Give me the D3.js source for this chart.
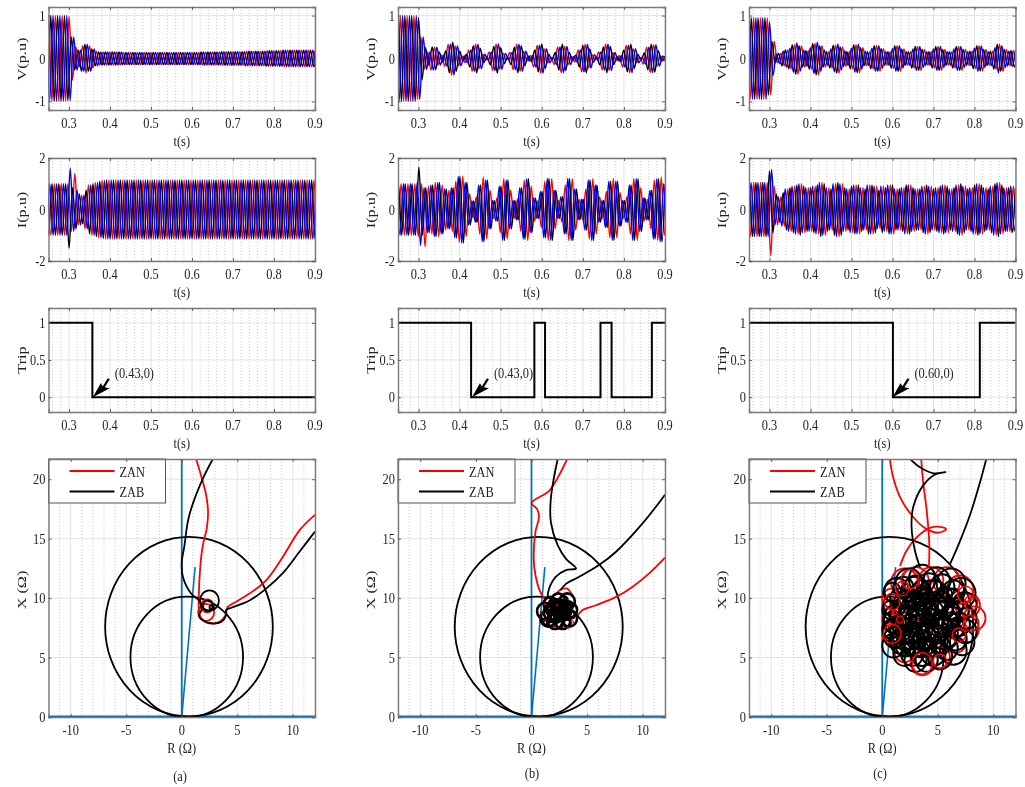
<!DOCTYPE html>
<html>
<head>
<meta charset="utf-8">
<script src="https://cdn.jsdelivr.net/npm/d3@7"></script>
<style>
body { margin: 0; background: #fff; }
svg { filter: blur(0.45px); }
text { font-family: "Liberation Serif", serif; fill: #222; }
</style>
</head>
<body>
<div id="chart"></div>
<script>
// tick labels
const timeTicks = [0.3, 0.4, 0.5, 0.6, 0.7, 0.8, 0.9]
const timeMinor = [0.26, 0.28, 0.32, 0.34, 0.36, 0.38, 0.42, 0.44, 0.46, 0.48, 0.52, 0.54, 0.56, 0.58, 0.62, 0.64, 0.66, 0.68, 0.72, 0.74, 0.76, 0.78, 0.82, 0.84, 0.86, 0.88]
const vTicks = [-1, 0, 1]
const iTicks = [-2, 0, 2]
const tripTicks = [0, 0.5, 1]
const rTicks = [-10, -5, 0, 5, 10]
const rMinor = [-12, -11, -9, -8, -7, -6, -4, -3, -2, -1, 1, 2, 3, 4, 6, 7, 8, 9, 11, 12]
const xTicks = [0, 5, 10, 15, 20]
const caseNames = ["(a)", "(b)", "(c)"]
const seriesColors = ["#ff0000", "#000000", "#0000ff"]

const vPeaksA = [1, 1, 1, 1, 1, 1, .98, .5, .27, .2, .3, .33, .3, .22, .17, .15, .15, .15, .15, .15,
    .15, .15, .14, .14, .14, .14, .14, .14, .14, .14, .14, .14, .14, .14, .14, .14, .14, .14, .14, .14,
    .14, .14, .14, .14, .14, .15, .15, .15, .15, .15, .15, .16, .16, .16, .16, .16, .16, .16, .17, .17,
    .17, .17, .17, .17, .18, .18, .18, .18, .18, .19, .19, .19, .19, .19, .19, .19, .19, .19, .19]
const vPeaksB = [1, 1, 1, 1, 1, 1, .95, .5, .25, .15, .27, .26, .15, .08, .18, .33, .38, .3, .17, .06,
    .1, .2, .3, .33, .24, .1, .04, .15, .28, .34, .25, .12, .03, .14, .26, .33, .3, .17, .06, .07,
    .2, .31, .34, .23, .1, .03, .14, .27, .33, .28, .14, .05, .08, .2, .31, .33, .22, .09, .03, .15,
    .27, .33, .28, .14, .05, .07, .2, .31, .33, .23, .1, .03, .13, .26, .33, .32, .18, .06, .05]
const vPeaksC = [.95, .95, .95, .95, .95, .95, .85, .4, .1, .12, .17, .2, .24, .32, .37, .3, .2, .18, .25, .35,
    .38, .3, .2, .16, .22, .31, .34, .27, .18, .16, .24, .32, .33, .25, .17, .16, .24, .3, .3, .23,
    .16, .16, .23, .3, .3, .22, .16, .16, .22, .28, .28, .21, .16, .16, .22, .28, .28, .21, .16, .16,
    .22, .28, .28, .21, .16, .17, .24, .3, .29, .21, .16, .17, .25, .33, .3, .21, .17, .18, .2]

// same thing for the I(p.u) panels
const iPeaksA = [1, 1, 1, 1, 1, 1, 1, .85, .75, .6, .55, .75, .95, 1, 1.05, 1.1, 1.13, 1.15, 1.15, 1.15,
    1.15, 1.15, 1.15, 1.15, 1.15, 1.15, 1.15, 1.15, 1.15, 1.15, 1.15, 1.15, 1.15, 1.15, 1.15, 1.15, 1.15, 1.15, 1.15, 1.15,
    1.15, 1.15, 1.15, 1.15, 1.15, 1.15, 1.15, 1.15, 1.15, 1.15, 1.15, 1.15, 1.15, 1.15, 1.15, 1.15, 1.15, 1.15, 1.15, 1.15,
    1.15, 1.15, 1.15, 1.15, 1.15, 1.15, 1.15, 1.15, 1.15, 1.15, 1.15, 1.15, 1.15, 1.15, 1.15, 1.15, 1.15, 1.15, 1.15]
const iPeaksB = [1, 1, 1, 1, 1, 1, 1.05, 1, .85, .9, .95, 1.05, 1.05, .95, .8, .75, .85, 1.1, 1.28, 1.3,
    1.05, .6, .33, .5, .95, 1.25, 1.15, .75, .35, .45, .9, 1.2, 1.15, .75, .35, .4, .85, 1.15, 1.2, .9,
    .45, .35, .7, 1.1, 1.2, 1.2, .75, .35, .5, .95, 1.2, 1.2, .8, .4, .4, .8, 1.15, 1.2, .95, .5,
    .35, .7, 1.1, 1.2, 1.1, .65, .35, .5, .95, 1.2, 1.2, .85, .45, .4, .75, 1.15, 1.2, 1.25, 1]
const iPeaksC = [1.05, 1.05, 1.05, 1.05, 1.05, 1.05, 1.05, .9, .6, .5, .65, .8, .85, .9, .95, 1, .9, .85, .85, .9,
    .95, 1.05, 1, .85, .8, 1, 1.05, 1, .85, .8, .9, .95, .95, .85, .8, .95, .95, .9, .75, .9,
    .85, .95, .95, .8, .8, .85, .95, .95, .85, .8, .8, .9, .95, .9, .8, .85, .9, .95, .9, .8,
    .85, .95, 1, .9, .8, .85, .95, 1, .95, .85, .8, .9, 1, 1.05, .95, .85, .85, .9, .85]

// phase of red, black, blue in cycles
const vPhases = [[0, .33, .67], [.33, 0, .67], [.67, .33, 0]]
const iPhases = [[.85, .51, .18], [.45, .05, .8], [.68, 0, .3]]

// fault spikes: [series, half cycle index, peak]
const iSpikesA = [[2, 6, 1.6], [1, 5, 1.5], [0, 6, 1.4]]
const iSpikesB = [[1, 6, 1.65], [2, 5, 1.4], [0, 7, 1.45]]
const iSpikesC = [[2, 6, 1.55], [1, 6, 1.5], [0, 5, 1.8]]

// trip signal, step corners
const tripTimeA = [.25, .357, .357, .9]
const tripValueA = [1, 1, 0, 0]
const tripTimeB = [.25, .428, .428, .582, .582, .608, .608, .743, .743, .77, .77, .868, .868, .9]
const tripValueB = [1, 1, 0, 0, 1, 1, 0, 0, 1, 1, 0, 0, 1, 1]
const tripTimeC = [.25, .601, .601, .813, .813, .9]
const tripValueC = [1, 1, 0, 0, 1, 1]
const tripTips = [0.358, 0.43, 0.60]
const tripLabels = ["(0.43,0)", "(0.43,0)", "(0.60,0)"]

// zones in the R-X plane: [R centre, X centre, radius]
const zones = [[0.65, 7.6, 7.55], [0.45, 5.05, 5.07]]
const reachLine = [[0, 0], [1.2, 12.6]]

// impedance tracks (a)
const redA = [[1.3, 21.7], [1.74, 20.3], [2.2, 18.65], [2.37, 17.25], [2.25, 15.85], [1.9, 14.45], [1.68, 12.76], [1.53, 9.96], [1.55, 9], [1.75, 8.3], [2.64, 7.85], [3.4, 8], [3.93, 8.55], [4.14, 9.26], [4.6, 9.54], [6.1, 10.38], [7.6, 11.5], [9.1, 13.46], [10.6, 15.7], [12, 17]]
const blackA = [[2.8, 21.7], [1.9, 20.05], [.84, 17.5], [.54, 16.4], [.24, 14.4], [0, 13], [.1, 11.8], [.84, 10.39], [1.6, 9.75], [1.75, 8.93], [1.54, 8.57], [1.96, 8.09], [2.8, 7.87], [3.55, 8], [4, 8.57], [4, 9], [4.3, 9.13], [6.1, 9.8], [7.6, 10.8], [9.1, 12.1], [10.6, 13.9], [12, 15.6]]
const loopsRedA = [[2.3, 9.35, .55], [2.2, 8.8, .72]]
const loopsBlackA = [[2.5, 9.8, .85], [2.35, 9.35, .45], [2.7, 9.2, .2]]

// impedance tracks (b)
const redB1 = [[3.2, 21.7], [2.46, 20.3], [1.56, 19], [0, 18], [.5, 17.5], [.67, 16.8], [.36, 15.6], [.2, 13.3], [.36, 11.9], [.8, 10.5], [1.27, 9.8]]
const redB2 = [[12, 13.4], [10.6, 12.1], [9.1, 10.96], [7.6, 10.1], [5.8, 9.4], [4.6, 9], [4.15, 8.55]]
const redB3 = [[2.1, 10.2], [2.6, 10.7], [3.2, 10.8], [3.7, 10.2]]
const blackB1 = [[2.35, 21.7], [1.74, 18.4], [1.74, 16.4], [2.35, 14.45], [3.1, 13.3], [4, 12.5], [3.1, 12.35], [2.2, 11.8], [1.58, 10.8], [1.43, 10]]
const blackB2 = [[12, 18.7], [10, 16.3], [7.6, 13.9], [6.1, 12.8], [4.3, 11.8], [3.1, 11.2], [2.6, 10.66]]
const loopsBlackB = [[1.2, 8.9, .7], [1.7, 9.5, .6], [2.4, 9.8, .6], [3.2, 9.7, .7], [3.5, 9, .6], [3.4, 8.3, .7], [2.8, 8.1, .7], [2.1, 8.1, .7], [1.5, 8.3, .7], [2.3, 9, .9], [2.8, 9, .8], [1.9, 8.8, .8], [2.5, 8.6, .5], [2.5, 9.4, .5], [3, 9.3, .3], [2, 9.2, .3], [3, 8.6, .3], [2.4, 9, .25],
    [1.2, 8.5, .35], [1.6, 9.1, .3], [1.9, 9.6, .3], [2.9, 9.8, .35], [3.4, 9.4, .3], [3.6, 8.6, .3], [3.2, 7.9, .3], [2.5, 7.8, .3], [1.8, 7.9, .3], [1.3, 8, .25], [1.8, 8.4, .3], [2.3, 8.2, .25], [2.9, 8.4, .25], [3.3, 8.9, .2], [2.7, 9.5, .2], [2.1, 9.5, .2], [1.6, 8.8, .15], [2.2, 8.7, .2], [2.7, 8.9, .15]]
const loopsRedB = [[.9, 8.8, .12], [1.2, 9.5, .08], [3.7, 8, .1], [2, 7.6, .08], [3.3, 7.5, .08], [2.3, 9.4, .06], [1.2, 8.1, .08]]

// impedance tracks (c)
const redC1 = [[3.5, 21.8], [3.7, 19.6], [4, 17.4], [4.24, 14.5], [4.2, 12.6]]
const redC2 = [[.67, 21.8], [.97, 20.2], [1.6, 18.5], [2.8, 16.8], [4, 15.8], [5.06, 15.5], [5.76, 15.8], [5.2, 16], [4.3, 15.9], [3.1, 15.1], [2.2, 14], [1.6, 12.7]]
const blackC1 = [[2.4, 21.8], [3.4, 21], [4.6, 20.5], [5.7, 20.6], [4.76, 20.4], [3.7, 19.5], [2.8, 17.7], [2.64, 16], [2.94, 14], [3.4, 12.6]]
const blackC2 = [[9.4, 21.8], [8.85, 19.9], [7.94, 17.1], [7, 14.8], [6.1, 12.85]]
const loopsRedC = [[2, 11.3, 1.2], [3, 11.4, 1.2], [4.4, 11.5, 1.1], [5.8, 11.4, 1.2], [7, 10.7, 1.2], [7.8, 9.4, 1], [8.3, 8.3, 1], [7.6, 7.4, 1.1], [6.6, 6.4, 1], [5.2, 5, .9], [3.6, 4.5, 1], [2, 5.5, .9], [1, 7, 1], [.8, 10, .8], [.9, 8.4, .9], [2.6, 7.5, 1.4], [3.4, 9.6, 1.5], [5.4, 8.2, 1.5], [1.8, 9.3, 1.1], [6.7, 8.7, 1.1]]
const loopsBlackC = [[1.3, 10.6, 1.1], [2.4, 11.3, 1.2], [3.6, 11.6, 1.2], [4.9, 11.4, 1.2], [6.2, 11.2, 1.3], [7.1, 10.4, 1.3], [7.4, 9.4, 1.1], [7.6, 8.3, .9], [7.5, 7.2, 1], [7.2, 6.3, 1.1], [6.4, 5.6, 1.2], [5.2, 5.1, 1.1], [4, 4.8, 1], [3, 4.8, 1], [2, 5.3, 1], [1, 6, 1], [.8, 7.4, .8], [.8, 9, .8],
    [2, 7, 1.3], [2.5, 9, 1.4], [3, 10.5, 1.3], [3, 6.5, 1.4], [4, 8, 1.5], [4.5, 10, 1.5], [4.5, 6.5, 1.4], [5.5, 8.5, 1.5], [5.5, 7, 1.3], [6, 9.5, 1.3], [3.3, 8.2, 1.2], [1.6, 8.5, .9], [2.4, 7.9, .7], [3.1, 9.3, .8], [3.8, 9.2, .7], [4.6, 8.9, .9], [4.3, 7.4, .8], [5, 9.6, .7], [3.6, 7.2, .6], [5, 8, .6], [4, 10.2, .6], [2.2, 10, .7], [6.2, 8, .8], [1.5, 6.8, .6], [3.5, 5.7, .7], [5.4, 6, .7], [4, 5.9, .7], [3.3, 6.8, .5], [4, 6.8, .4], [5, 7.2, .5], [5.8, 7.8, .4], [5.5, 9.3, .5], [4.5, 9.9, .4], [3.4, 10, .4], [2.6, 9.4, .4], [1.9, 8.9, .4], [2.9, 7.4, .5],
    [.9, 10.5, .8], [1, 8, .9], [1.1, 6.7, .9], [1.7, 7.7, .8], [1.5, 10, .8], [2.1, 6, .9], [2.8, 6, .8], [2.3, 8.5, .8], [2.9, 9.9, .8], [3.5, 10.8, .7], [4.8, 10.7, .8], [5.6, 10.3, .7], [6.4, 10.2, .6], [6.3, 8.9, .7], [6.6, 7.5, .8], [6, 6.5, .7], [5, 5.9, .6],
    [3.7, 8.1, .3], [4.4, 8.2, .3], [5, 8.6, .3], [3.9, 9, .25], [3.3, 8, .3], [2.3, 7.2, .3], [1.4, 9, .3], [1.5, 6.2, .3], [6.2, 9.6, .35], [6.6, 8, .3], [4.6, 6.1, .3], [3.6, 6.1, .3],
    [1.1, 9.4, 1], [1, 7.2, .95], [1.4, 8.2, 1.3], [1.7, 6.3, 1], [2.7, 5.3, 1], [3.6, 5.4, 1.1], [4.6, 5.4, 1.1], [5.8, 5.8, 1], [6.6, 6.6, 1], [6.9, 7.8, 1], [6.8, 9, 1], [6.4, 10.5, 1], [5.4, 10.9, 1.1], [4.2, 11, 1.1], [3, 10.9, 1], [1.9, 10.9, .9], [2.2, 9.4, 1.2], [3.6, 9, 1.3], [5.2, 9.4, 1.2], [5.1, 7.6, 1.2], [3.6, 6.8, 1.2], [2.6, 6.6, .9], [4.4, 8.4, .7], [3, 8, .6], [6, 7.2, .5], [4.2, 6.2, .5], [5.9, 8.9, .5], [3.6, 10.4, .5], [1.8, 9.6, .5], [1.4, 7.4, .4], [2.2, 8, .35], [3, 9.2, .3], [4.1, 9.5, .3], [4.8, 7.9, .3], [3.8, 7.6, .3], [5.6, 7.6, .25], [2.6, 6.2, .3], [5.4, 6.5, .3], [4.9, 10.2, .3], [6.4, 8.4, .3], [1, 8.6, .4], [1, 6.4, .4]]
const loopsRedCTop = [[.9, 9.7, .7], [.9, 7, .8], [1.8, 10.8, .6], [2.5, 11.6, .8], [6.9, 6.9, .6], [8, 7.9, .7], [8, 9.6, .6], [5.2, 4.7, .6], [3.6, 4.5, .9], [7.5, 10.3, .7], [1.6, 8.2, .3], [1.1, 8.8, .2]]

// the layout comes from the reference picture
const width = 1025
const height = 787
const columns = [[48.5, 315], [398, 665], [749, 1015.5]]
const vRow = [7, 110]
const iRow = [158, 261]
const tripRow = [308, 412]
const zRow = [459, 717]
const captionX = [180, 532, 880]
const captionY = [776, 773, 773]
const halfCycle = 1 / 120

const svg = d3.select("#chart").append("svg").attr("width", width).attr("height", height)
svg.append("rect").attr("width", width).attr("height", height).attr("fill", "#fff")

let clipCount = 0

function label(g, x, y, str, anchor, rotate) {
    // the reference is stretched vertically, so its letters are tall and narrow
    let sx = rotate ? 1.05 : 0.8
    let sy = rotate ? 0.86 : 1
    g.append("text")
        .attr("transform", "translate(" + x + "," + y + ")" + (rotate ? " rotate(-90)" : "") + " scale(" + sx + "," + sy + ")")
        .attr("text-anchor", anchor)
        .style("font-size", "15.5px")
        .text(str)
}

function makePanel(col, row, xDomain, yDomain, xMajor, xMinor, yMajor) {
    var x = d3.scaleLinear().domain(xDomain).range(columns[col])
    var y = d3.scaleLinear().domain(yDomain).range([row[1], row[0]])
    var g = svg.append("g")

    xMinor.forEach(function (v) {
        g.append("line").attr("x1", x(v)).attr("x2", x(v)).attr("y1", row[0]).attr("y2", row[1])
            .attr("stroke", "#bdbdbd").attr("stroke-width", 0.8).attr("stroke-dasharray", "1,2")
    })
    xMajor.forEach(function (v) {
        g.append("line").attr("x1", x(v)).attr("x2", x(v)).attr("y1", row[0]).attr("y2", row[1])
            .attr("stroke", "#e2e2e2").attr("stroke-width", 1)
    })
    yMajor.forEach(function (v) {
        g.append("line").attr("x1", columns[col][0]).attr("x2", columns[col][1]).attr("y1", y(v)).attr("y2", y(v))
            .attr("stroke", "#e2e2e2").attr("stroke-width", 1)
    })

    clipCount++
    var clipId = "clip" + clipCount
    svg.append("clipPath").attr("id", clipId).append("rect")
        .attr("x", columns[col][0]).attr("y", row[0])
        .attr("width", columns[col][1] - columns[col][0]).attr("height", row[1] - row[0] + 1)
    var plot = svg.append("g").attr("clip-path", "url(#" + clipId + ")")

    return {x: x, y: y, plot: plot, row: row, col: col, xMajor: xMajor, yMajor: yMajor}
}

function finishPanel(p) {
    var g = svg.append("g")
    var left = columns[p.col][0]
    var right = columns[p.col][1]
    var top = p.row[0]
    var bottom = p.row[1]

    var axes = [
        g.append("g").attr("transform", "translate(0," + bottom + ")").call(d3.axisBottom(p.x).tickValues(p.xMajor).tickSize(-3).tickFormat("")),
        g.append("g").attr("transform", "translate(0," + top + ")").call(d3.axisTop(p.x).tickValues(p.xMajor).tickSize(-3).tickFormat("")),
        g.append("g").attr("transform", "translate(" + left + ",0)").call(d3.axisLeft(p.y).tickValues(p.yMajor).tickSize(-3).tickFormat("")),
        g.append("g").attr("transform", "translate(" + right + ",0)").call(d3.axisRight(p.y).tickValues(p.yMajor).tickSize(-3).tickFormat(""))
    ]
    axes.forEach(function (a) {
        a.selectAll("path").attr("stroke", "#7a7a7a").attr("stroke-width", 1.4)
        a.selectAll("line").attr("stroke", "#555").attr("stroke-width", 0.9)
    })

    p.xMajor.forEach(function (v) {
        label(g, p.x(v), bottom + 18, String(v), "middle")
    })
    p.yMajor.forEach(function (v) {
        label(g, left - 3, p.y(v) + 5, String(v), "end")
    })
}

function drawWave(p, peaks, phases, spikes) {
    var line = d3.line().x(d => p.x(d[0])).y(d => p.y(d[1])).curve(d3.curveMonotoneX)
    seriesColors.forEach(function (color, s) {
        var pts = []
        var shift = Math.round(phases[s] * 2)
        // starts two half cycles early so the trace runs in from left of the frame
        for (let k = -2; k < peaks.length; k++) {
            let val = peaks[Math.min(peaks.length - 1, Math.max(0, k + shift))]
            spikes.forEach(function (sp) {
                if (sp[0] == s && sp[1] == k) val = sp[2]
            })
            let t = 0.25 + phases[s] * 2 * halfCycle + k * halfCycle
            pts.push([t, (k + 2) % 2 == 0 ? val : -val])
        }
        p.plot.append("path").attr("d", line(pts)).attr("fill", "none")
            .attr("stroke", color).attr("stroke-width", 1.45)
    })
}

function drawTrack(p, pts, color) {
    var line = d3.line().x(d => p.x(d[0])).y(d => p.y(d[1])).curve(d3.curveCatmullRom.alpha(0.5))
    p.plot.append("path").attr("d", line(pts)).attr("fill", "none")
        .attr("stroke", color).attr("stroke-width", 1.8)
}

function drawLoops(p, loops, color, strokeWidth) {
    loops.forEach(function (d) {
        p.plot.append("ellipse")
            .attr("cx", p.x(d[0])).attr("cy", p.y(d[1]))
            .attr("rx", p.x(d[0] + d[2]) - p.x(d[0]))
            .attr("ry", p.y(d[1]) - p.y(d[1] + d[2]))
            .attr("fill", "none").attr("stroke", color).attr("stroke-width", strokeWidth)
    })
}

const tDomain = [0.25, 0.9]
const cases = [[vPeaksA, iPeaksA, iSpikesA, tripTimeA, tripValueA], [vPeaksB, iPeaksB, iSpikesB, tripTimeB, tripValueB], [vPeaksC, iPeaksC, iSpikesC, tripTimeC, tripValueC]]

cases.forEach(function (c, col) {
    var cx = (columns[col][0] + columns[col][1]) / 2
    var left = columns[col][0]

    // voltage
    var pv = makePanel(col, vRow, tDomain, [-1.2, 1.2], timeTicks, timeMinor, vTicks)
    drawWave(pv, c[0], vPhases[col], [])
    finishPanel(pv)
    label(svg, cx, 146, "t(s)", "middle")
    label(svg, left - 23, 59, "V(p.u)", "middle", true)

    // current
    var pi = makePanel(col, iRow, tDomain, [-2, 2], timeTicks, timeMinor, iTicks)
    drawWave(pi, c[1], iPhases[col], c[2])
    finishPanel(pi)
    label(svg, cx, 297, "t(s)", "middle")
    label(svg, left - 23, 210, "I(p.u)", "middle", true)

    // trip signal
    var pt = makePanel(col, tripRow, tDomain, [-0.2, 1.2], timeTicks, timeMinor, tripTicks)
    var tripLine = d3.line().x((d, i) => pt.x(c[3][i])).y(d => pt.y(d))
    pt.plot.append("path").attr("d", tripLine(c[4])).attr("fill", "none")
        .attr("stroke", "#000").attr("stroke-width", 2)
    finishPanel(pt)
    label(svg, cx, 448, "t(s)", "middle")
    label(svg, left - 23, 360, "Trip", "middle", true)

    // arrow head and text of the trip point
    var tipX = pt.x(tripTips[col])
    var tipY = pt.y(0)
    svg.append("path")
        .attr("transform", "translate(" + tipX + "," + tipY + ")")
        .attr("d", "M0,0 L8,-14 L10,-11 L15,-19 L17,-18 L12,-10 L17,-9 Z")
        .attr("fill", "#000")
    label(svg, tipX + 22, tipY - 19, tripLabels[col], "start")

    // R-X plane
    var pz = makePanel(col, zRow, [-12, 12], [0, 21.7], rTicks, rMinor, xTicks)
    var blue = "#0072bd"
    var reach = d3.line().x(d => pz.x(d[0])).y(d => pz.y(d[1]))
    pz.plot.append("path").attr("d", reach([[-12, 0], [12, 0]])).attr("stroke", blue).attr("stroke-width", 3).attr("fill", "none")
    pz.plot.append("path").attr("d", reach([[0, 0], [0, 21.7]])).attr("stroke", blue).attr("stroke-width", 1.8).attr("fill", "none")
    pz.plot.append("path").attr("d", reach(reachLine)).attr("stroke", blue).attr("stroke-width", 1.6).attr("fill", "none")
    drawLoops(pz, zones, "#000", 1.8)

    if (col == 0) {
        drawTrack(pz, redA, "#ff0000")
        drawLoops(pz, loopsRedA, "#ff0000", 1.8)
        drawTrack(pz, blackA, "#000")
        drawLoops(pz, loopsBlackA, "#000", 1.8)
    } else if (col == 1) {
        drawTrack(pz, redB1, "#ff0000")
        drawTrack(pz, redB2, "#ff0000")
        drawTrack(pz, redB3, "#ff0000")
        drawLoops(pz, loopsBlackB, "#000", 2.6)
        drawTrack(pz, blackB1, "#000")
        drawTrack(pz, blackB2, "#000")
        drawLoops(pz, loopsRedB, "#ff0000", 1)
    } else {
        drawLoops(pz, loopsRedC, "#ff0000", 1.8)
        drawLoops(pz, loopsBlackC, "#000", 2)
        drawLoops(pz, loopsRedCTop, "#ff0000", 1.4)
        drawTrack(pz, redC1, "#ff0000")
        drawTrack(pz, redC2, "#ff0000")
        drawTrack(pz, blackC1, "#000")
        drawTrack(pz, blackC2, "#000")
    }

    // legend
    var lg = svg.append("g")
    lg.append("rect").attr("x", left).attr("y", zRow[0]).attr("width", 117).attr("height", 44)
        .attr("fill", "#fff").attr("stroke", "#555").attr("stroke-width", 1)
    lg.append("line").attr("x1", left + 21).attr("x2", left + 66).attr("y1", 471).attr("y2", 471)
        .attr("stroke", "#ff0000").attr("stroke-width", 1.8)
    lg.append("line").attr("x1", left + 21).attr("x2", left + 66).attr("y1", 491.5).attr("y2", 491.5)
        .attr("stroke", "#000").attr("stroke-width", 1.8)
    label(lg, left + 71, 477, "ZAN", "start")
    label(lg, left + 71, 497, "ZAB", "start")

    finishPanel(pz)
    label(svg, cx, 753, "R (Ω)", "middle")
    label(svg, left - 23, 590, "X (Ω)", "middle", true)
    label(svg, captionX[col], captionY[col] + 5, caseNames[col], "middle")
})
</script>
</body>
</html>
